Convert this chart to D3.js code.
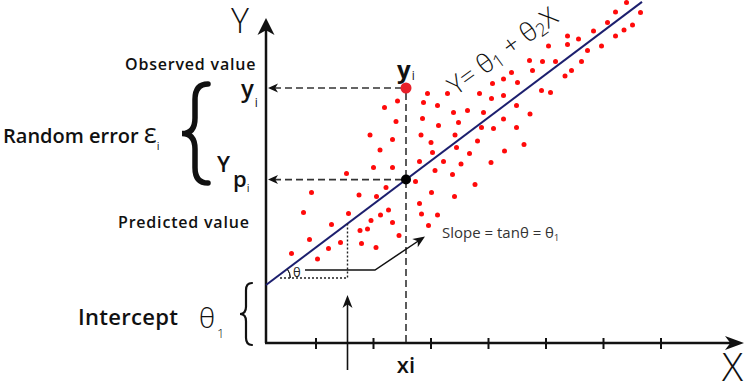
<!DOCTYPE html>
<html>
<head>
<meta charset="utf-8">
<script src="https://cdn.jsdelivr.net/npm/d3@7"></script>
<style>
  html, body { margin: 0; padding: 0; background: #fff; }
  svg { display: block; font-family: "Open Sans", sans-serif; }
</style>
</head>
<body>
<div id="chart"></div>
<script>
// scatter points (x, y in chart units)
const dotX = [72.1, 69.9, 74.9, 68.3, 73.3, 65.5, 71.6, 60.3, 62.5, 69.9, 60.3, 56.5, 67.1, 64.3, 52.7, 55.3, 57.9, 63.1, 53.3, 49.1,
              61.1, 59.8, 47.5, 50.3, 45.3, 55.1, 56.9, 32.3, 36.3, 42.7, 47.5, 45.1, 26.3, 31.5, 23.7, 34.3, 50.1, 40.3, 37.5, 43.5,
              52.8, 31.3, 47.5, 26.0, 38.5, 34.5, 43.1, 45.5, 50.1, 20.8, 31.0, 37.8, 25.3, 33.0, 42.3, 51.6, 22.8, 38.1, 33.3, 40.7,
              47.7, 30.7, 35.5, 39.0, 45.0, 21.5, 25.3, 33.8, 37.3, 29.9, 41.8, 24.0, 22.1, 33.1, 37.7, 16.1, 9.1, 18.6, 7.5, 16.5,
              13.1, 21.0, 18.8, 20.3, 8.7, 19.1, 14.9, 12.5, 22.0, 5.1, 10.3, 30.7, 24.5, 22.9, 31.1, 34.3, 25.3, 32.5, 26.6];
const dotY = [68.1, 66.2, 66.1, 64.1, 63.6, 62.4, 62.6, 61.4, 60.8, 61.4, 59.7, 59.4, 59.4, 58.5, 56.5, 56.3, 56.3, 56.3, 54.5, 54.1,
              54.5, 53.4, 52.8, 52.1, 51.9, 50.5, 50.1, 49.9, 49.9, 49.9, 49.5, 48.9, 48.4, 48.1, 47.1, 47.5, 47.5, 46.5, 46.1, 46.1,
              45.8, 44.9, 44.8, 44.3, 44.1, 43.5, 43.1, 42.9, 43.1, 41.6, 41.6, 41.6, 40.7, 40.1, 40.4, 39.7, 38.6, 39.1, 38.1, 37.9,
              38.4, 36.3, 36.3, 35.8, 36.1, 35.1, 35.1, 34.5, 33.7, 32.3, 31.7, 31.1, 29.3, 30.1, 29.3, 33.9, 30.1, 29.6, 26.1, 25.9,
              23.7, 24.5, 22.5, 22.8, 20.7, 19.9, 20.1, 18.9, 19.1, 17.9, 16.8, 27.9, 26.6, 25.6, 25.8, 25.6, 24.1, 23.5, 21.5];

// regression line and highlighted observation
const theta1 = 11.6;
const theta2 = 0.753;
const lineEndX = 75.2;
const xi = 28;
const yiObserved = 51;

// x axis tick positions
const xTicks = [10, 21.5, 33, 44.5, 56, 67.5, 79];

function init(){

    const width = 752;
    const height = 386;

    const x = d3.scaleLinear().domain([0, 95]).range([266, 741]);
    const y = d3.scaleLinear().domain([0, 68.6]).range([343, 0]);

    const svg = d3.select("#chart")
                .append("svg")
                .attr("width", width)
                .attr("height", height);

    const ink = "#111";

    //Small helper for filled arrowheads
    function arrowHead(px, py, angle, len, half) {
        svg.append("path")
            .attr("d", `M0,0 L${-len},${-half} L${-len * 0.72},0 L${-len},${half} Z`)
            .attr("transform", `translate(${px},${py}) rotate(${angle})`)
            .attr("fill", ink);
    }

    //Curly brace pointing left
    function brace(bx, y0, y1, w, sw) {
        const ym = (y0 + y1) / 2;
        const q = Math.min(w * 0.6, (y1 - y0) / 6);
        const xm = bx - w / 2;
        const d = `M${bx},${y0} Q${xm},${y0} ${xm},${y0 + q} L${xm},${ym - q} Q${xm},${ym} ${bx - w},${ym}` +
                  ` Q${xm},${ym} ${xm},${ym + q} L${xm},${y1 - q} Q${xm},${y1} ${bx},${y1}`;
        svg.append("path")
            .attr("d", d)
            .attr("fill", "none")
            .attr("stroke", ink)
            .attr("stroke-width", sw)
            .attr("stroke-linecap", "round");
    }

    //Axes
    svg.append("line")
        .attr("x1", x(0)).attr("y1", y(0))
        .attr("x2", x(0)).attr("y2", 26)
        .attr("stroke", ink).attr("stroke-width", 2.5);
    arrowHead(x(0), 18, -90, 17, 8.5);

    svg.append("line")
        .attr("x1", x(0) - 1).attr("y1", y(0))
        .attr("x2", 735).attr("y2", y(0))
        .attr("stroke", ink).attr("stroke-width", 2.5);
    arrowHead(744, y(0), 0, 19, 7);

    svg.selectAll(".tick")
        .data(xTicks)
        .enter().append("line")
        .attr("class", "tick")
        .attr("x1", d => x(d)).attr("x2", d => x(d))
        .attr("y1", y(0) - 5).attr("y2", y(0) + 6)
        .attr("stroke", ink).attr("stroke-width", 2);

    //Scatter
    svg.selectAll(".dot")
        .data(dotX.map((d, i) => [d, dotY[i]]))
        .enter().append("circle")
        .attr("class", "dot")
        .attr("cx", d => x(d[0]))
        .attr("cy", d => y(d[1]))
        .attr("r", 2.5)
        .attr("fill", "#ff0a0a");

    //Regression line
    svg.append("line")
        .attr("x1", x(0)).attr("y1", y(theta1))
        .attr("x2", x(lineEndX)).attr("y2", y(theta1 + theta2 * lineEndX))
        .attr("stroke", "#1c1f6e").attr("stroke-width", 2);

    const yPred = theta1 + theta2 * xi;

    //Dashed guides
    svg.append("line")
        .attr("x1", x(xi)).attr("y1", y(yiObserved) + 5)
        .attr("x2", x(xi)).attr("y2", y(0))
        .attr("stroke", "#333").attr("stroke-width", 1.6)
        .attr("stroke-dasharray", "7,4");

    [yiObserved, yPred].forEach(v => {
        svg.append("line")
            .attr("x1", x(xi) - 4).attr("y1", y(v))
            .attr("x2", x(0) + 8).attr("y2", y(v))
            .attr("stroke", "#333").attr("stroke-width", 1.6)
            .attr("stroke-dasharray", "7,4");
        arrowHead(x(0) + 2, y(v), 180, 10, 4.5);
    });

    //Observed and predicted points
    svg.append("circle")
        .attr("cx", x(xi)).attr("cy", y(yiObserved))
        .attr("r", 5.5).attr("fill", "#e8202a");
    svg.append("circle")
        .attr("cx", x(xi)).attr("cy", y(yPred))
        .attr("r", 5).attr("fill", "#000");

    //Slope triangle
    const triX0 = 2.8, triX1 = 16.3, triY = 13;
    svg.append("path")
        .attr("d", `M${x(triX0)},${y(triY)} L${x(triX1)},${y(triY)} L${x(triX1)},${y(theta1 + theta2 * triX1)}`)
        .attr("fill", "none")
        .attr("stroke", "#222").attr("stroke-width", 1.4)
        .attr("stroke-dasharray", "2,2");

    const cross = (triY - theta1) / theta2;
    const arc = d3.arc()
                .innerRadius(15).outerRadius(15)
                .startAngle(Math.PI / 2 - Math.atan(theta2)).endAngle(Math.PI / 2);
    svg.append("path")
        .attr("d", arc())
        .attr("transform", `translate(${x(cross)},${y(triY)})`)
        .attr("fill", "none").attr("stroke", "#222").attr("stroke-width", 1);

    svg.append("text")
        .attr("x", 293).attr("y", 277)
        .attr("font-size", 13).attr("fill", "#222")
        .text("θ");

    //Slope leader
    svg.append("path")
        .attr("d", `M${x(7.8)},${y(14.6)} L${x(21.8)},${y(14.6)} L${x(31.2)},${y(20.9)}`)
        .attr("fill", "none").attr("stroke", ink).attr("stroke-width", 1.5);
    arrowHead(x(31.8), y(21.3), -33.5, 12, 5);

    svg.append("text")
        .attr("x", 442).attr("y", 238)
        .attr("font-size", 15).attr("fill", "#333")
        .text("Slope = tanθ = θ")
        .append("tspan").attr("dy", 3).attr("font-size", 9).text("1");

    //Up arrow below triangle
    svg.append("line")
        .attr("x1", x(triX1)).attr("y1", 370)
        .attr("x2", x(triX1)).attr("y2", 302)
        .attr("stroke", ink).attr("stroke-width", 1.6);
    arrowHead(x(triX1), 295, -90, 13, 5);

    //Axis labels
    svg.append("text")
        .attr("x", 231).attr("y", 33)
        .attr("font-size", 34).attr("font-weight", 300).attr("fill", ink)
        .text("Y");

    svg.append("text")
        .attr("x", 722).attr("y", 381)
        .attr("font-size", 39).attr("font-weight", 300).attr("fill", ink)
        .text("X");

    svg.append("text")
        .attr("x", x(xi)).attr("y", 373)
        .attr("text-anchor", "middle")
        .attr("font-size", 22).attr("font-weight", 600).attr("fill", ink)
        .text("xi");

    //y_i above the observed point
    const yiTop = svg.append("text")
        .attr("x", 397).attr("y", 78)
        .attr("font-size", 24).attr("font-weight", 700).attr("fill", ink)
        .text("y");
    yiTop.append("tspan").attr("dy", 2).attr("dx", 1).attr("font-size", 12).attr("font-weight", 400).text("i");

    //Side labels
    svg.append("text")
        .attr("x", 125).attr("y", 70)
        .attr("font-size", 16).attr("font-weight", 600).attr("letter-spacing", 0.8).attr("fill", ink)
        .text("Observed value");

    svg.append("text")
        .attr("x", 118).attr("y", 228)
        .attr("font-size", 16).attr("font-weight", 600).attr("letter-spacing", 0.8).attr("fill", ink)
        .text("Predicted value");

    const yiSide = svg.append("text")
        .attr("x", 241).attr("y", 97)
        .attr("font-size", 24).attr("font-weight", 600).attr("fill", ink)
        .text("y");
    yiSide.append("tspan").attr("dy", 10).attr("dx", 1).attr("font-size", 12).attr("font-weight", 400).text("i");

    const ypSide = svg.append("text")
        .attr("x", 217).attr("y", 172)
        .attr("font-size", 22).attr("font-weight", 600).attr("fill", ink)
        .text("Y");
    ypSide.append("tspan").attr("dy", 15).attr("dx", 3).attr("font-size", 22).text("p");
    ypSide.append("tspan").attr("dy", 5).attr("font-size", 11).attr("font-weight", 400).text("i");

    brace(208, 84, 183, 26, 5.5);

    const errText = svg.append("text")
        .attr("x", 3).attr("y", 143)
        .attr("font-size", 20).attr("font-weight", 600).attr("fill", ink)
        .text("Random error ");
    errText.append("tspan").attr("font-size", 27).attr("font-weight", 400).text("ε");
    errText.append("tspan").attr("dy", 7).attr("font-size", 11).attr("font-weight", 400).text("i");

    svg.append("text")
        .attr("x", 78).attr("y", 325)
        .attr("font-size", 22).attr("font-weight", 600).attr("letter-spacing", 0.3).attr("fill", ink)
        .text("Intercept");

    const th = svg.append("text")
        .attr("x", 199).attr("y", 328)
        .attr("font-size", 28).attr("font-weight", 300).attr("fill", ink)
        .text("θ");
    th.append("tspan").attr("dy", 10).attr("dx", 2).attr("font-size", 13).text("1");

    brace(252, 283, 345, 12, 2.2);

    //Equation along the regression line
    const eq = svg.append("text")
        .attr("transform", "translate(456,96) rotate(-36)")
        .attr("font-size", 26).attr("font-weight", 300).attr("fill", ink);
    eq.append("tspan").text("Y= θ");
    eq.append("tspan").attr("dy", 3).attr("font-size", 18).text("1");
    eq.append("tspan").attr("dy", -3).text(" + θ");
    eq.append("tspan").attr("dy", 3).attr("font-size", 18).text("2");
    eq.append("tspan").attr("dy", -3).text("X");

}
window.onload = init;
</script>
</body>
</html>
